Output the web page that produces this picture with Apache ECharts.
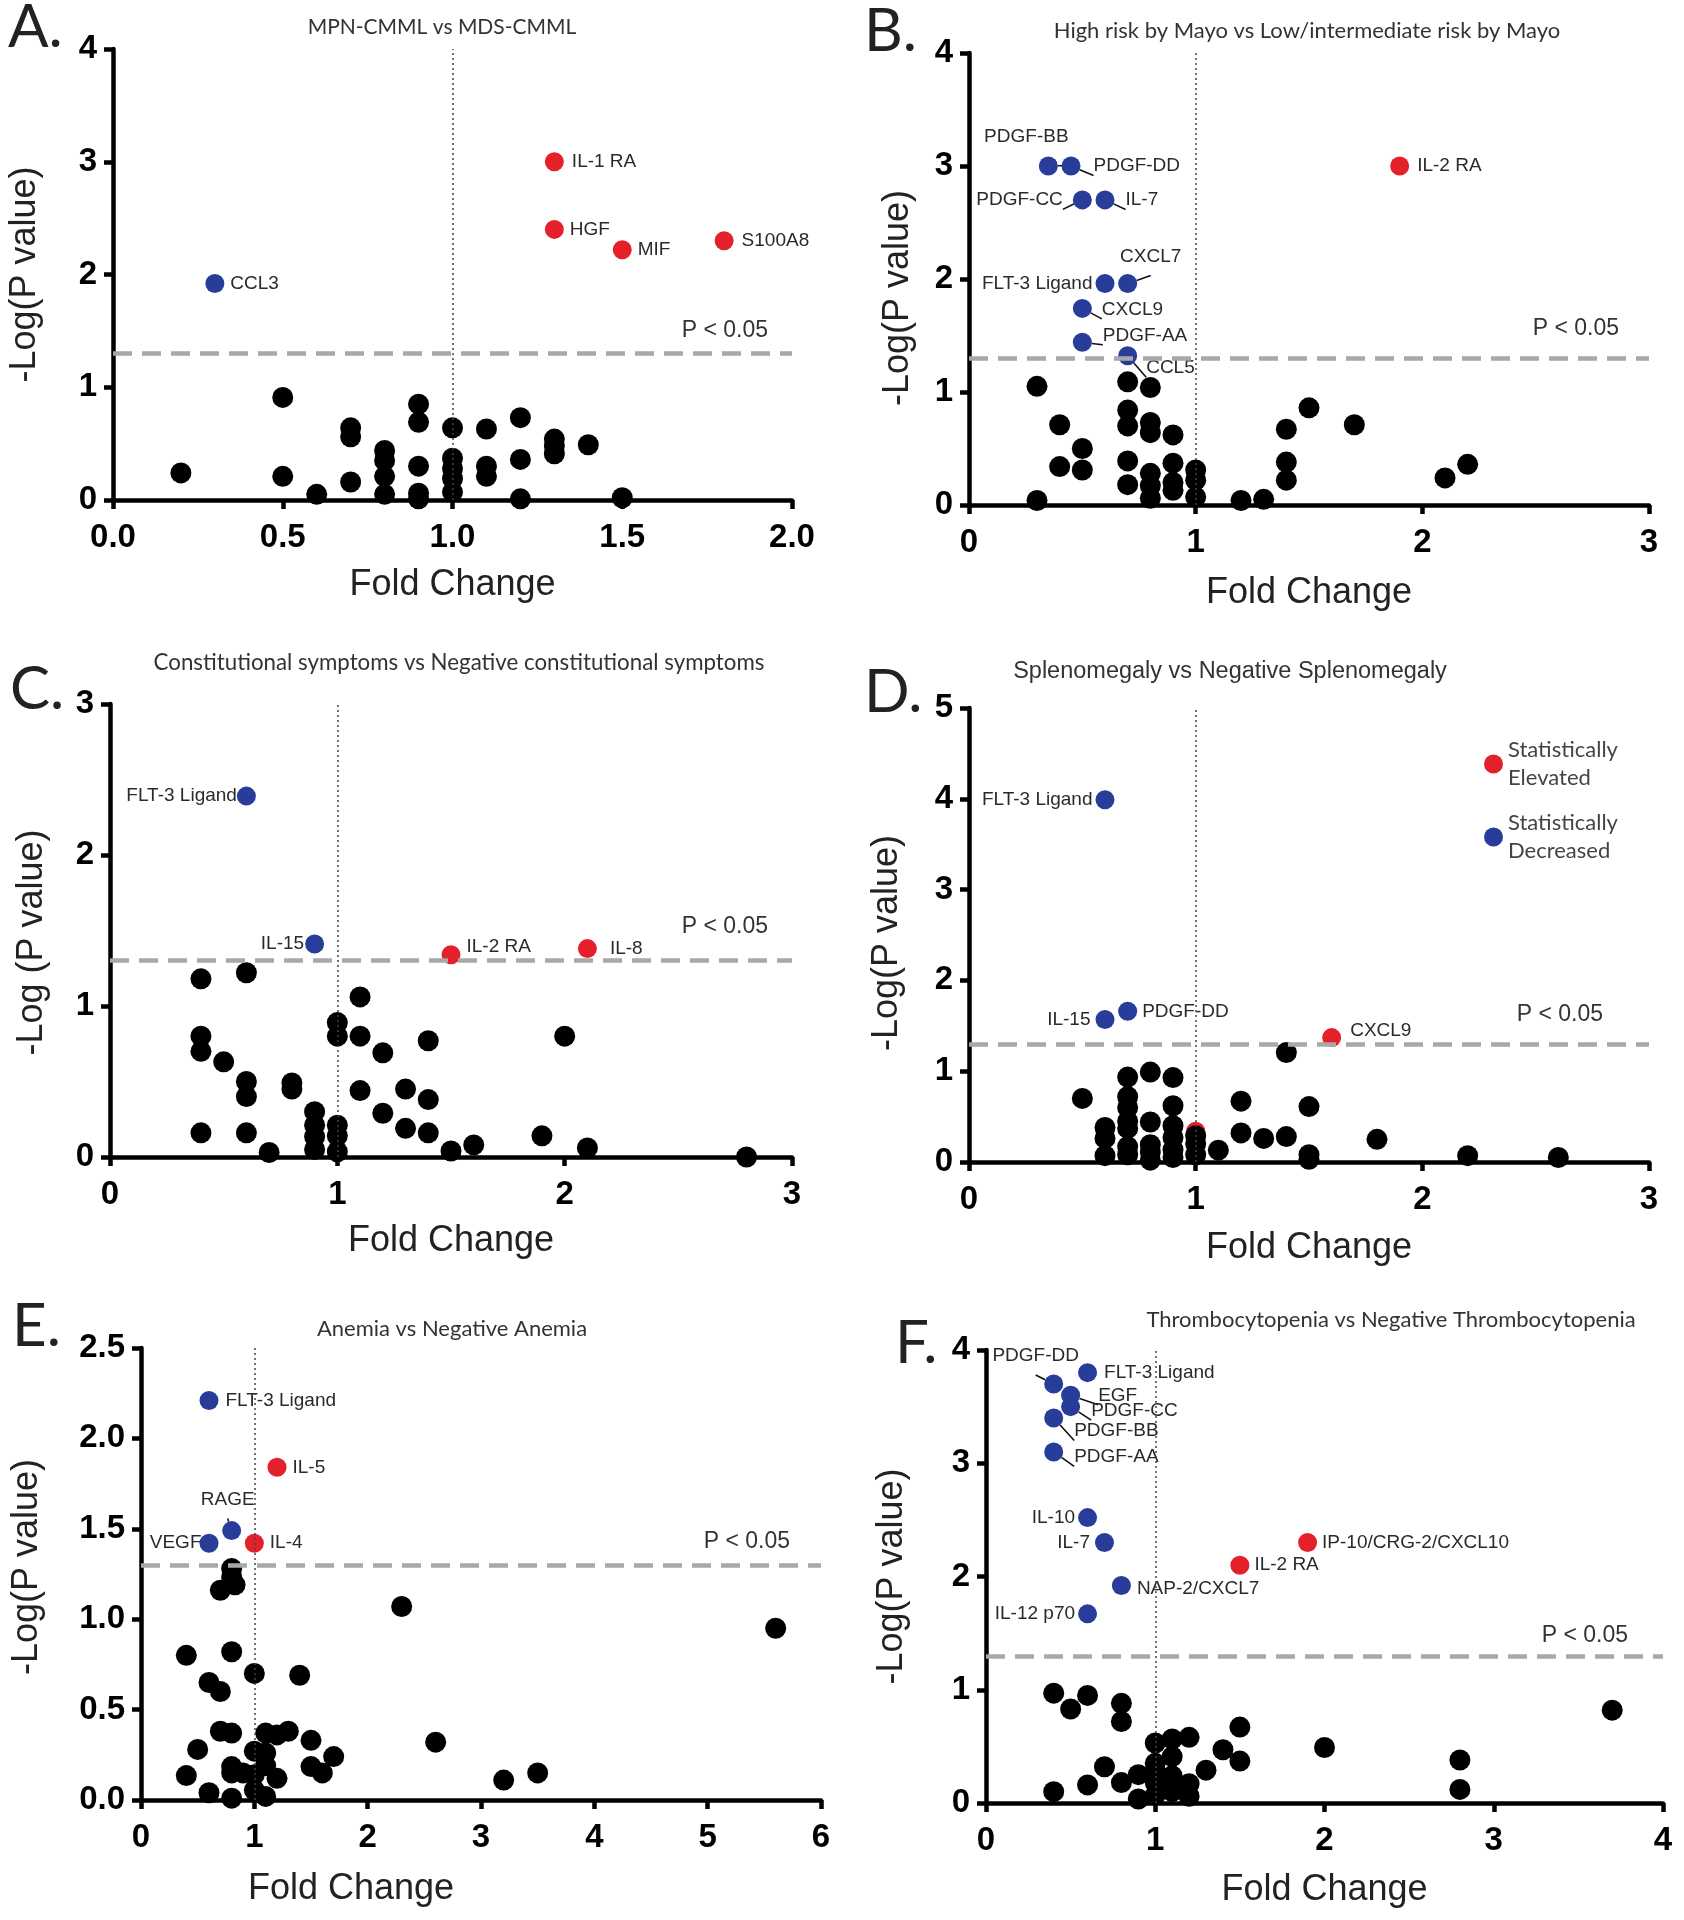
<!DOCTYPE html>
<html><head><meta charset="utf-8">
<script src="https://cdn.jsdelivr.net/npm/echarts@6.0.0/dist/echarts.min.js"></script>
<style>html,body{margin:0;padding:0;background:#fff}#c{width:1684px;height:1920px}</style>
</head><body><div id="c"></div>
<script>
// ---------------- DATA ----------------
const threshold = 1.3;      // -log10(0.05)
const foldRef = 1;          // fold change = 1
const thresholdText = 'P < 0.05';

// Panel A
const aTitle = 'MPN-CMML vs MDS-CMML';
const aUp = [['IL-1 RA',1.3,3.0],['HGF',1.3,2.4],['MIF',1.5,2.22],['S100A8',1.8,2.3]];
const aDown = [['CCL3',0.3,1.92]];
const aBlack = [[0.2,0.24],[0.5,0.91],[0.5,0.21],[0.6,0.05],[0.7,0.64],[0.7,0.56],[0.7,0.16],[0.8,0.44],[0.8,0.35],[0.8,0.21],[0.8,0.05],[0.9,0.85],[0.9,0.69],[0.9,0.30],[0.9,0.06],[0.9,0.01],[1.0,0.64],[1.0,0.37],[1.0,0.28],[1.0,0.19],[1.0,0.07],[1.1,0.63],[1.1,0.30],[1.1,0.21],[1.2,0.73],[1.2,0.36],[1.2,0.01],[1.3,0.54],[1.3,0.48],[1.3,0.41],[1.4,0.49],[1.5,0.02]];

// Panel B
const bTitle = 'High risk by Mayo vs Low/intermediate risk by Mayo';
const bUp = [['IL-2 RA',1.9,3.0]];
const bDown = [['PDGF-BB',0.35,3.0],['PDGF-DD',0.45,3.0],['PDGF-CC',0.5,2.7],['IL-7',0.6,2.7],['FLT-3 Ligand',0.6,1.96],['CXCL7',0.7,1.96],['CXCL9',0.5,1.74],['PDGF-AA',0.5,1.44],['CCL5',0.7,1.32]];
const bBlack = [[0.3,1.05],[0.3,0.04],[0.4,0.71],[0.4,0.34],[0.5,0.50],[0.5,0.31],[0.7,1.09],[0.7,0.84],[0.7,0.70],[0.7,0.39],[0.7,0.18],[0.8,1.04],[0.8,0.73],[0.8,0.64],[0.8,0.28],[0.8,0.17],[0.8,0.06],[0.9,0.62],[0.9,0.37],[0.9,0.20],[0.9,0.13],[1.0,0.31],[1.0,0.22],[1.0,0.07],[1.2,0.04],[1.3,0.05],[1.4,0.67],[1.4,0.38],[1.4,0.22],[1.5,0.86],[1.7,0.71],[2.1,0.24],[2.2,0.36]];

// Panel C
const cTitle = 'Constitutional symptoms vs Negative constitutional symptoms';
const cUp = [['IL-2 RA',1.5,1.34],['IL-8',2.1,1.38]];
const cDown = [['FLT-3 Ligand',0.6,2.39],['IL-15',0.9,1.41]];
const cBlack = [[0.4,1.18],[0.4,0.80],[0.4,0.70],[0.4,0.16],[0.5,0.63],[0.6,1.22],[0.6,0.50],[0.6,0.40],[0.6,0.16],[0.7,0.03],[0.8,0.49],[0.8,0.45],[0.9,0.30],[0.9,0.21],[0.9,0.135],[0.9,0.05],[1.0,0.89],[1.0,0.80],[1.0,0.21],[1.0,0.14],[1.0,0.035],[1.1,1.06],[1.1,0.80],[1.1,0.44],[1.2,0.69],[1.2,0.29],[1.3,0.45],[1.3,0.19],[1.4,0.77],[1.4,0.38],[1.4,0.16],[1.5,0.04],[1.6,0.08],[1.9,0.14],[2.0,0.80],[2.1,0.06],[2.8,0.0]];

// Panel D
const dTitle = 'Splenomegaly vs Negative Splenomegaly';
const dUp = [['CXCL9',1.6,1.37],['',1.0,0.34]];
const dDown = [['FLT-3 Ligand',0.6,3.99],['IL-15',0.6,1.57],['PDGF-DD',0.7,1.66]];
const dBlack = [[0.5,0.70],[0.6,0.38],[0.6,0.26],[0.6,0.07],[0.7,0.935],[0.7,0.72],[0.7,0.60],[0.7,0.45],[0.7,0.37],[0.7,0.17],[0.7,0.08],[0.8,0.99],[0.8,0.44],[0.8,0.19],[0.8,0.11],[0.8,0.02],[0.9,0.93],[0.9,0.62],[0.9,0.40],[0.9,0.27],[0.9,0.135],[0.9,0.05],[1.0,0.29],[1.0,0.20],[1.0,0.08],[1.1,0.13],[1.2,0.67],[1.2,0.32],[1.3,0.26],[1.4,1.205],[1.4,0.28],[1.5,0.61],[1.5,0.08],[1.5,0.03],[1.8,0.25],[2.2,0.07],[2.6,0.05]];

// Panel E
const eTitle = 'Anemia vs Negative Anemia';
const eUp = [['IL-5',1.2,1.84],['IL-4',1.0,1.42]];
const eDown = [['FLT-3 Ligand',0.6,2.21],['RAGE',0.8,1.49],['VEGF',0.6,1.42]];
const eBlack = [[0.8,1.28],[0.8,1.23],[0.83,1.19],[0.7,1.16],[0.4,0.80],[0.8,0.82],[1.0,0.70],[1.4,0.69],[0.6,0.65],[0.7,0.60],[0.7,0.38],[0.8,0.37],[0.5,0.28],[1.1,0.37],[1.2,0.36],[1.3,0.38],[1.5,0.33],[1.0,0.27],[1.1,0.26],[1.7,0.24],[1.5,0.185],[1.6,0.15],[0.4,0.135],[0.8,0.185],[0.8,0.15],[0.9,0.15],[1.0,0.14],[1.1,0.19],[1.2,0.12],[1.0,0.055],[1.1,0.02],[0.6,0.04],[0.8,0.01],[2.3,1.07],[2.6,0.32],[3.2,0.11],[3.5,0.15],[5.6,0.95]];

// Panel F
const fTitle = 'Thrombocytopenia vs Negative Thrombocytopenia';
const fUp = [['IP-10/CRG-2/CXCL10',1.9,2.30],['IL-2 RA',1.5,2.10]];
const fDown = [['PDGF-DD',0.4,3.70],['FLT-3 Ligand',0.6,3.80],['EGF',0.5,3.60],['PDGF-CC',0.5,3.50],['PDGF-BB',0.4,3.40],['PDGF-AA',0.4,3.10],['IL-10',0.6,2.52],['IL-7',0.7,2.30],['NAP-2/CXCL7',0.8,1.92],['IL-12 p70',0.6,1.67]];
const fBlack = [[0.4,0.97],[0.5,0.83],[0.6,0.95],[0.8,0.88],[0.8,0.72],[0.4,0.10],[0.6,0.16],[0.7,0.32],[0.8,0.18],[0.9,0.25],[0.9,0.035],[1.0,0.53],[1.0,0.35],[1.0,0.28],[1.0,0.18],[1.0,0.07],[1.1,0.565],[1.1,0.41],[1.1,0.24],[1.1,0.10],[1.2,0.58],[1.2,0.17],[1.2,0.06],[1.3,0.29],[1.4,0.47],[1.5,0.67],[1.5,0.37],[2.0,0.49],[2.8,0.38],[2.8,0.12],[3.7,0.82]];

// ---------------- STYLE / LAYOUT ----------------
const FA = "'Liberation Sans', Arial, sans-serif";
const FT = "Lato, 'Open Sans', sans-serif";
const RED = '#e4202a', BLUE = '#283c9a', BLACK = '#000';

// label placement: [position, dx, dy, leaderLine]
const place = {
  'A:IL-1 RA':['right',3,0],'A:HGF':['right',1,0],'A:MIF':['right',1,0],'A:S100A8':['right',3,0],'A:CCL3':['right',1,0],
  'B:PDGF-BB':['top',-22,-5,1],'B:PDGF-DD':['right',8,0,1],'B:PDGF-CC':['left',-5,0,1],'B:IL-7':['right',6,0,1],
  'B:FLT-3 Ligand':['left',2,0],'B:CXCL7':['top',23,-3,1],'B:CXCL9':['right',5,1,1],'B:PDGF-AA':['right',6,-7,1],
  'B:CCL5':['right',4,12,1],'B:IL-2 RA':['right',3,0],
  'C:FLT-3 Ligand':['left',5,0],'C:IL-15':['left',4,0],'C:IL-2 RA':['right',1,-8],'C:IL-8':['right',8,0],
  'D:FLT-3 Ligand':['left',2,0],'D:IL-15':['left',0,0],'D:PDGF-DD':['right',0,0],'D:CXCL9':['right',4,-7],
  'E:FLT-3 Ligand':['right',2,0],'E:IL-5':['right',1,0],'E:RAGE':['top',-4,-7,1],'E:VEGF':['left',7,0],'E:IL-4':['right',1,0],
  'F:PDGF-DD':['top',-18,-4,1],'F:FLT-3 Ligand':['right',2,0],'F:EGF':['right',13,0,1],'F:PDGF-CC':['right',6,4,1],
  'F:PDGF-BB':['right',6,13,1],'F:PDGF-AA':['right',6,5,1],'F:IL-10':['left',2,0],'F:IL-7':['left',0,0],
  'F:NAP-2/CXCL7':['right',1,3],'F:IL-12 p70':['left',2,0],'F:IP-10/CRG-2/CXCL10':['right',0,0],'F:IL-2 RA':['right',0,0]
};

const panels = [
  {key:'A', title:aTitle, titleXY:[442,27], titleFont:FT, titleSize:21, up:aUp, down:aDown, black:aBlack, x:[0,2,0.5], y:[0,4,1], xDec:1, yDec:0,
   grid:[113,49,679,451], yName:'-Log(P value)', yGap:70, yPad:[0,0,0,0], xGap:67, xPad:[0,0,0,0], pDist:[24,11], letterXY:[8,28]},
  {key:'B', title:bTitle, titleXY:[1307,31], titleFont:FT, titleSize:22, up:bUp, down:bDown, black:bBlack, x:[0,3,1], y:[0,4,1], xDec:0, yDec:0,
   grid:[969,53,680,452], yName:'-Log(P value)', yGap:53, yPad:[0,38,0,0], xGap:70, xPad:[0,0,0,0], pDist:[30,18], letterXY:[864,32]},
  {key:'C', title:cTitle, titleXY:[459,663], titleFont:FT, titleSize:22.3, up:cUp, down:cDown, black:cBlack, x:[0,3,1], y:[0,3,1], xDec:0, yDec:0,
   grid:[110,704,682,453], yName:'-Log (P value)', yGap:60, yPad:[0,24,0,0], xGap:66, xPad:[0,0,0,0], pDist:[24,23], letterXY:[10,690]},
  {key:'D', title:dTitle, titleXY:[1230,672], titleFont:FA, titleSize:23.5, up:dUp, down:dDown, black:dBlack, x:[0,3,1], y:[0,5,1], xDec:0, yDec:0,
   grid:[969,708,680,454], yName:'-Log(P value)', yGap:64, yPad:[0,16,0,0], xGap:68, xPad:[0,0,0,0], pDist:[46,18], letterXY:[864,693]},
  {key:'E', title:eTitle, titleXY:[452,1329], titleFont:FT, titleSize:22, up:eUp, down:eDown, black:eBlack, x:[0,6,1], y:[0,2.5,0.5], xDec:0, yDec:1,
   grid:[141,1348,680,452], yName:'-Log(P value)', yGap:96, yPad:[0,0,0,14], xGap:71, xPad:[0,260,0,0], pDist:[31,12], letterXY:[12,1327]},
  {key:'F', title:fTitle, titleXY:[1391,1320], titleFont:FT, titleSize:22, up:fUp, down:fDown, black:fBlack, x:[0,4,1], y:[0,4,1], xDec:0, yDec:0,
   grid:[986,1350,677,453], yName:'-Log(P value)', yGap:76, yPad:[0,0,0,0], xGap:69, xPad:[0,0,0,0], pDist:[35,9], letterXY:[895,1344]}
];

function items(arr, key) {
  return arr.map(([name, x, y]) => {
    const it = {name: name, value: [x, y]};
    const pl = place[key + ':' + name];
    if (name && pl) {
      it.label = {show: true, position: pl[0], offset: [pl[1], pl[2]]};
      if (pl[3]) it.labelLine = {show: true, lineStyle: {color: '#111', width: 1.6}};
    }
    return it;
  });
}

const option = {
  animation: false,
  backgroundColor: '#fff',
  grid: [], xAxis: [], yAxis: [], series: [], graphic: [],
  legend: {
    data: ['Statistically Elevated', 'Statistically Decreased'],
    orient: 'vertical', left: 1479, top: 731, itemWidth: 19, itemHeight: 19, itemGap: 17,
    icon: 'circle', selectedMode: false,
    formatter: n => n.replace(' ', '\n'),
    textStyle: {fontFamily: FT, fontSize: 22, lineHeight: 28, color: '#444'}
  }
};

const labelBase = {show: false, formatter: '{b}', fontFamily: FA, fontSize: 19, color: '#2a2a2a', distance: 5};

panels.forEach((p, i) => {
  const [l, t, w, h] = p.grid;
  option.grid.push({left: l, top: t, width: w, height: h, outerBoundsMode: 'none', containLabel: false});
  const axisCommon = {
    type: 'value', gridIndex: i, nameLocation: 'middle',
    axisLine: {show: true, onZero: false, lineStyle: {color: BLACK, width: 4.5}},
    axisTick: {show: true, length: 9, lineStyle: {color: BLACK, width: 4.5}},
    splitLine: {show: false},
    nameTextStyle: {fontFamily: FA, fontSize: 36, color: '#222'}
  };
  option.xAxis.push(Object.assign({}, axisCommon, {
    min: p.x[0], max: p.x[1], interval: p.x[2], name: 'Fold Change', nameGap: p.xGap,
    nameTextStyle: Object.assign({}, axisCommon.nameTextStyle, {padding: p.xPad}),
    axisLabel: {margin: 21, fontFamily: FA, fontWeight: 'bold', fontSize: 33, color: '#000',
      formatter: v => v.toFixed(p.xDec)}
  }));
  option.yAxis.push(Object.assign({}, axisCommon, {
    min: p.y[0], max: p.y[1], interval: p.y[2], name: p.yName, nameGap: p.yGap, nameRotate: 90,
    nameTextStyle: Object.assign({}, axisCommon.nameTextStyle, {padding: p.yPad}),
    axisLabel: {margin: 16, fontFamily: FA, fontWeight: 'bold', fontSize: 33, color: '#000',
      formatter: v => v.toFixed(p.yDec)}
  }));
  option.series.push({
    type: 'scatter', name: 'Statistically Elevated', xAxisIndex: i, yAxisIndex: i,
    symbolSize: 19, itemStyle: {color: RED, opacity: 1}, label: labelBase, data: items(p.up, p.key), z: 3
  });
  option.series.push({
    type: 'scatter', name: 'Statistically Decreased', xAxisIndex: i, yAxisIndex: i,
    symbolSize: 19, itemStyle: {color: BLUE, opacity: 1}, label: labelBase, data: items(p.down, p.key), z: 3
  });
  option.series.push({
    type: 'scatter', name: 'Not significant', xAxisIndex: i, yAxisIndex: i,
    symbolSize: 21, itemStyle: {color: BLACK, opacity: 1}, data: p.black, z: 4,
    markLine: {
      silent: true, symbol: 'none', animation: false,
      data: [
        {yAxis: threshold, lineStyle: {color: '#a8a8a8', width: 4.5, type: [19, 10], opacity: 1},
         label: {show: true, position: 'insideEndTop', formatter: thresholdText, color: '#333',
                 fontFamily: FA, fontSize: 23, distance: p.pDist}},
        {xAxis: foldRef, lineStyle: {color: '#444', width: 1.5, type: [2, 3], opacity: 1}, label: {show: false}}
      ]
    }
  });
  option.graphic.push({
    type: 'text', x: p.titleXY[0], y: p.titleXY[1], silent: true,
    style: {text: p.title, fontFamily: p.titleFont, fontSize: p.titleSize, fill: '#333',
            align: 'center', verticalAlign: 'middle'}
  });
  option.graphic.push({
    type: 'text', x: p.letterXY[0], y: p.letterXY[1], silent: true,
    style: {text: p.key + '.', fontFamily: FT, fontSize: 60, fill: '#222', align: 'left', verticalAlign: 'middle'}
  });
});

const chart = echarts.init(document.getElementById('c'), null, {renderer: 'canvas', width: 1684, height: 1920});
chart.setOption(option);
</script></body></html>
